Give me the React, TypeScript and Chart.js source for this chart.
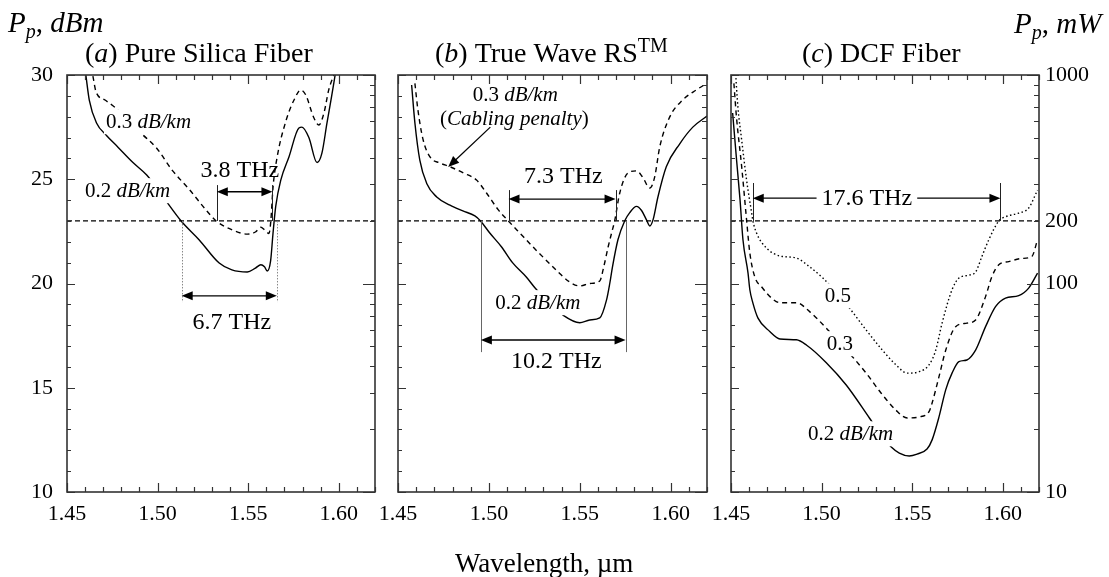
import React, { useEffect, useRef } from 'react';
import { Chart, registerables } from 'chart.js';
Chart.register(...registerables);

const FONT = "'Liberation Serif', 'Times New Roman', serif";

// ---------- axes ----------
const X_TICKS = [1.45, 1.46, 1.47, 1.48, 1.49, 1.5, 1.51, 1.52, 1.53, 1.54, 1.55, 1.56, 1.57, 1.58, 1.59, 1.6, 1.61, 1.62];
const X_LABELS = ['1.45', '1.50', '1.55', '1.60'];
const DBM_TICKS = [10, 11, 12, 13, 14, 15, 16, 17, 18, 19, 20, 21, 22, 23, 24, 25, 26, 27, 28, 29, 30];
const DBM_LABELS = ['10', '15', '20', '25', '30'];
const MW_TICKS = [10, 20, 30, 40, 50, 60, 70, 80, 90, 100, 200, 300, 400, 500, 600, 700, 800, 900, 1000];
const MW_LABELS = ['10', '100', '200', '1000'];
const THRESHOLD_DBM = 23;

// ---------- (a) Pure Silica Fiber ----------
const A_02_X = [1.4604, 1.4623, 1.4663, 1.4718, 1.478, 1.4864, 1.494, 1.5035, 1.513, 1.523, 1.534, 1.541, 1.5495, 1.554, 1.557, 1.559, 1.5605, 1.5624, 1.5637, 1.5652, 1.568, 1.5725, 1.578, 1.5797, 1.5835, 1.588, 1.5907, 1.5935, 1.596, 1.598];
const A_02_Y = [30, 28.8, 27.7, 27.1, 26.55, 25.8, 25.2, 24.1, 23.0, 22.09, 20.98, 20.65, 20.55, 20.74, 20.9, 20.8, 20.6, 21.1, 22.4, 23.7, 24.96, 26.07, 27.46, 27.5, 27.0, 25.8, 26.25, 27.7, 28.95, 30];
const A_03_X = [1.4643, 1.466, 1.471, 1.4764, 1.4837, 1.491, 1.4994, 1.508, 1.5176, 1.527, 1.5323, 1.5413, 1.5495, 1.554, 1.557, 1.559, 1.5615, 1.5625, 1.5637, 1.566, 1.571, 1.5753, 1.579, 1.5818, 1.586, 1.589, 1.5918, 1.5945, 1.5973];
const A_03_Y = [29.95, 29.2, 28.8, 28.45, 27.85, 27.2, 26.5, 25.44, 24.5, 23.5, 23.0, 22.57, 22.37, 22.47, 22.7, 22.57, 22.4, 23.0, 24.6, 26.07, 27.84, 28.8, 29.28, 29.04, 28.0, 27.6, 28.17, 29.3, 30];

// ---------- (b) True Wave RS ----------
const B_02_X = [1.4575, 1.4593, 1.462, 1.4658, 1.4713, 1.4786, 1.4857, 1.4923, 1.4954, 1.5005, 1.507, 1.513, 1.5207, 1.5253, 1.533, 1.5407, 1.55, 1.5555, 1.561, 1.5647, 1.5665, 1.568, 1.571, 1.5747, 1.5775, 1.5812, 1.584, 1.5867, 1.5885, 1.5903, 1.593, 1.5976, 1.605, 1.6122, 1.62];
const B_02_Y = [29.52, 27.7, 25.92, 24.8, 24.15, 23.76, 23.48, 23.24, 23.0, 22.42, 21.75, 21.0, 20.3, 19.8, 19.1, 18.49, 18.12, 18.25, 18.35, 19.2, 20.0, 20.8, 22.1, 23.0, 23.4, 23.7, 23.5, 23.05, 22.76, 23.05, 24.15, 25.6, 26.7, 27.5, 28.03];
const B_03_X = [1.4593, 1.461, 1.4638, 1.4676, 1.473, 1.4786, 1.486, 1.4932, 1.4987, 1.5052, 1.5107, 1.517, 1.526, 1.537, 1.5445, 1.55, 1.5555, 1.561, 1.5632, 1.5656, 1.5675, 1.5692, 1.572, 1.5765, 1.5812, 1.5846, 1.5885, 1.5912, 1.594, 1.5995, 1.6066, 1.614, 1.62];
const B_03_Y = [29.6, 28.3, 26.9, 26.07, 25.78, 25.6, 25.3, 24.96, 24.34, 23.53, 23.0, 22.42, 21.6, 20.65, 20.07, 19.88, 20.0, 20.12, 20.8, 21.75, 22.42, 23.0, 24.34, 25.3, 25.4, 25.1, 24.58, 25.1, 26.55, 27.99, 28.8, 29.28, 29.6];

// ---------- (c) DCF Fiber ----------
const C_02_X = [1.4509, 1.4531, 1.455, 1.4566, 1.4594, 1.4604, 1.4621, 1.4649, 1.4714, 1.477, 1.4861, 1.4916, 1.5026, 1.5136, 1.5264, 1.532, 1.5383, 1.5429, 1.5484, 1.5527, 1.5582, 1.561, 1.5648, 1.5685, 1.572, 1.5758, 1.5802, 1.585, 1.5905, 1.596, 1.6015, 1.6088, 1.6143, 1.6192];
const C_02_Y = [28.18, 25.9, 24.0, 22.1, 20.5, 19.7, 19.06, 18.34, 17.7, 17.34, 17.3, 17.05, 16.2, 15.13, 13.55, 12.85, 12.17, 11.87, 11.73, 11.82, 12.06, 12.5, 13.6, 14.9, 15.7, 16.25, 16.33, 16.8, 17.93, 18.89, 19.3, 19.42, 19.78, 20.5];
const C_03_X = [1.4516, 1.453, 1.4559, 1.4586, 1.4604, 1.4632, 1.4668, 1.4724, 1.477, 1.4861, 1.4934, 1.5026, 1.51, 1.517, 1.5246, 1.5328, 1.541, 1.5473, 1.5538, 1.5593, 1.561, 1.5648, 1.5685, 1.574, 1.5802, 1.585, 1.5905, 1.594, 1.5978, 1.6033, 1.6104, 1.616, 1.6192];
const C_03_Y = [29.6, 28.0, 25.6, 23.05, 21.46, 20.3, 19.85, 19.3, 19.08, 19.08, 18.65, 17.86, 17.15, 16.49, 15.7, 14.75, 13.93, 13.55, 13.6, 13.85, 14.27, 15.53, 16.8, 17.93, 18.1, 18.25, 19.37, 20.33, 20.9, 21.05, 21.2, 21.29, 22.1];
const C_05_X = [1.4527, 1.4538, 1.4559, 1.4586, 1.4614, 1.4621, 1.4641, 1.4696, 1.477, 1.4861, 1.4934, 1.5007, 1.508, 1.5154, 1.5246, 1.5336, 1.541, 1.5473, 1.5538, 1.5593, 1.563, 1.5665, 1.572, 1.5758, 1.5813, 1.585, 1.5885, 1.5923, 1.5978, 1.6015, 1.6088, 1.6143, 1.6192];
const C_05_Y = [29.85, 28.47, 26.88, 24.96, 23.38, 23.0, 22.42, 21.7, 21.32, 21.22, 20.8, 20.26, 19.6, 18.82, 17.77, 16.8, 16.1, 15.7, 15.77, 16.1, 16.8, 18.1, 19.7, 20.26, 20.4, 20.55, 21.3, 22.1, 23.0, 23.2, 23.38, 23.62, 24.48];

// ---------- drawing helpers ----------
type Seg = { t: string; i?: boolean; sub?: boolean; sup?: boolean };
const R = (t: string): Seg => ({ t });
const I = (t: string): Seg => ({ t, i: true });

function drawRich(ctx: CanvasRenderingContext2D, segs: Seg[], x: number, y: number, size: number, align: string, bg?: number) {
  const fontFor = (s: Seg) => `${s.i ? 'italic ' : ''}${s.sub || s.sup ? Math.round(size * 0.7) : size}px ${FONT}`;
  let w = 0;
  const widths = segs.map((s) => {
    ctx.font = fontFor(s);
    const m = ctx.measureText(s.t).width;
    w += m;
    return m;
  });
  let x0 = align === 'center' ? x - w / 2 : align === 'right' ? x - w : x;
  if (bg !== undefined) {
    ctx.fillStyle = '#fff';
    ctx.fillRect(x0 - bg, y - size * 0.8 - 2, w + 2 * bg, size * 1.05 + 3);
  }
  ctx.fillStyle = '#000';
  ctx.textAlign = 'left';
  ctx.textBaseline = 'alphabetic';
  segs.forEach((s, k) => {
    ctx.font = fontFor(s);
    const dy = s.sub ? size * 0.22 : s.sup ? -size * 0.36 : 0;
    ctx.fillText(s.t, x0, y + dy);
    x0 += widths[k];
  });
}

function head(ctx: CanvasRenderingContext2D, x: number, y: number, dx: number, dy: number) {
  const L = 11, W = 4.5;
  const bx = x - dx * L, by = y - dy * L;
  ctx.beginPath();
  ctx.moveTo(x, y);
  ctx.lineTo(bx - dy * W, by + dx * W);
  ctx.lineTo(bx + dy * W, by - dx * W);
  ctx.closePath();
  ctx.fill();
}

function doubleArrow(ctx: CanvasRenderingContext2D, x1: number, x2: number, y: number) {
  ctx.strokeStyle = '#000';
  ctx.fillStyle = '#000';
  ctx.lineWidth = 1.3;
  ctx.beginPath();
  ctx.moveTo(x1 + 5, y);
  ctx.lineTo(x2 - 5, y);
  ctx.stroke();
  head(ctx, x1, y, -1, 0);
  head(ctx, x2, y, 1, 0);
}

function pointer(ctx: CanvasRenderingContext2D, x1: number, y1: number, x2: number, y2: number) {
  const len = Math.hypot(x2 - x1, y2 - y1);
  const dx = (x2 - x1) / len, dy = (y2 - y1) / len;
  ctx.strokeStyle = '#000';
  ctx.fillStyle = '#000';
  ctx.lineWidth = 1.3;
  ctx.beginPath();
  ctx.moveTo(x1, y1);
  ctx.lineTo(x2 - dx * 5, y2 - dy * 5);
  ctx.stroke();
  head(ctx, x2, y2, dx, dy);
}

const near = (v: number, step: number) => Math.abs(v / step - Math.round(v / step)) < 1e-6;

// ---------- panels ----------
const SOLID: number[] = [];
const DASHED = [5, 4];
const DOTTED = [1.5, 2.5];

const PANELS: any[] = [
  {
    key: 'a', left: 67, right: 375, yW: 60, y2W: 10, leftLabels: true, rightLabels: false,
    series: [
      { x: A_02_X, y: A_02_Y, dash: SOLID },
      { x: A_03_X, y: A_03_Y, dash: DASHED },
    ],
    title: [R('('), I('a'), R(') Pure Silica Fiber')], titleDx: 18,
    vlines: [
      { x: 1.5327, y1: 23, y2: 24.72, color: '#222' },
      { x: 1.5634, y1: 23, y2: 24.72, color: '#222' },
      { x: 1.5133, y1: 23, y2: 19.11, color: '#888', dash: [1.5, 1.5] },
      { x: 1.5658, y1: 23, y2: 19.11, color: '#888', dash: [1.5, 1.5] },
    ],
    arrows: [
      { x1: 1.5327, x2: 1.5634, y: 24.4 },
      { x1: 1.5133, x2: 1.5658, y: 19.41 },
    ],
    pointers: [],
    labels: [
      { x: 1.4715, y: 27.46, segs: [R('0.3 '), I('dB/km')], size: 21, align: 'left', bg: 2 },
      { x: 1.4599, y: 24.15, segs: [R('0.2 '), I('dB/km')], size: 21, align: 'left', bg: 2 },
      { x: 1.5454, y: 25.1, segs: [R('3.8 THz')], size: 24, align: 'center' },
      { x: 1.541, y: 17.82, segs: [R('6.7 THz')], size: 24, align: 'center' },
    ],
    extra: [{ segs: [I('P'), { t: 'p', i: true, sub: true }, R(', '), I('dBm')], px: 8, py: 32, size: 29 }],
  },
  {
    key: 'b', left: 398, right: 707, yW: 10, y2W: 10, leftLabels: false, rightLabels: false,
    series: [
      { x: B_02_X, y: B_02_Y, dash: SOLID },
      { x: B_03_X, y: B_03_Y, dash: DASHED },
    ],
    title: [R('('), I('b'), R(') True Wave RS'), { t: 'TM', sup: true }], titleDx: 37,
    vlines: [
      { x: 1.5108, y1: 23, y2: 24.48, color: '#222' },
      { x: 1.5697, y1: 23, y2: 24.48, color: '#222' },
      { x: 1.4956, y1: 23, y2: 16.71, color: '#666' },
      { x: 1.5752, y1: 23, y2: 16.71, color: '#666' },
    ],
    arrows: [
      { x1: 1.5108, x2: 1.5697, y: 24.05 },
      { x1: 1.4956, x2: 1.5752, y: 17.29 },
    ],
    pointers: [{ x1: 1.5008, y1: 27.5, x2: 1.4776, y2: 25.59 }],
    labels: [
      { x: 1.5145, y: 28.75, segs: [R('0.3 '), I('dB/km')], size: 21, align: 'center' },
      { x: 1.514, y: 27.6, segs: [R('('), I('Cabling penalty'), R(')')], size: 21, align: 'center' },
      { x: 1.541, y: 24.82, segs: [R('7.3 THz')], size: 24, align: 'center' },
      { x: 1.5371, y: 15.95, segs: [R('10.2 THz')], size: 24, align: 'center' },
      { x: 1.5035, y: 18.78, segs: [R('0.2 '), I('dB/km')], size: 21, align: 'left', bg: 2 },
    ],
    extra: [{ segs: [R('Wavelength, µm')], px: 455, py: 572, size: 27 }],
  },
  {
    key: 'c', left: 731, right: 1039, yW: 10, y2W: 60, leftLabels: false, rightLabels: true,
    series: [
      { x: C_02_X, y: C_02_Y, dash: SOLID },
      { x: C_03_X, y: C_03_Y, dash: DASHED },
      { x: C_05_X, y: C_05_Y, dash: DOTTED },
    ],
    title: [R('('), I('c'), R(') DCF Fiber')], titleDx: 71,
    vlines: [
      { x: 1.462, y1: 23, y2: 24.82, color: '#222' },
      { x: 1.5987, y1: 23, y2: 24.82, color: '#222' },
    ],
    arrows: [{ x1: 1.462, x2: 1.5987, y: 24.09 }],
    pointers: [],
    labels: [
      { x: 1.525, y: 23.77, segs: [R('17.6 THz')], size: 24, align: 'center', bg: 5 },
      { x: 1.5018, y: 19.11, segs: [R('0.5')], size: 21, align: 'left', bg: 2 },
      { x: 1.5029, y: 16.81, segs: [R('0.3')], size: 21, align: 'left', bg: 2 },
      { x: 1.4925, y: 12.49, segs: [R('0.2 '), I('dB/km')], size: 21, align: 'left', bg: 2 },
    ],
    extra: [{ segs: [I('P'), { t: 'p', i: true, sub: true }, R(', '), I('mW')], px: 1014, py: 33, size: 29 }],
  },
];

const panelPlugin = (p: any) => ({
  id: 'panel_' + p.key,
  afterDatasetsDraw(chart: any) {
    const { ctx, scales } = chart;
    const X = (v: number) => scales.x.getPixelForValue(v);
    const Y = (v: number) => scales.y.getPixelForValue(v);
    ctx.save();
    p.vlines.forEach((v: any) => {
      ctx.beginPath();
      ctx.strokeStyle = v.color;
      ctx.lineWidth = 1;
      ctx.setLineDash(v.dash || []);
      ctx.moveTo(Math.round(X(v.x)) + 0.5, Y(v.y1));
      ctx.lineTo(Math.round(X(v.x)) + 0.5, Y(v.y2));
      ctx.stroke();
    });
    ctx.setLineDash([]);
    p.arrows.forEach((a: any) => doubleArrow(ctx, X(a.x1), X(a.x2), Y(a.y)));
    p.pointers.forEach((a: any) => pointer(ctx, X(a.x1), Y(a.y1), X(a.x2), Y(a.y2)));
    p.labels.forEach((l: any) => drawRich(ctx, l.segs, X(l.x), Y(l.y), l.size, l.align, l.bg));
    ctx.restore();
  },
  afterDraw(chart: any) {
    const { ctx, chartArea, scales } = chart;
    const { left, right, top, bottom } = chartArea;
    ctx.save();
    ctx.strokeStyle = '#333';
    ctx.lineWidth = 1.2;
    ctx.beginPath();
    scales.x.ticks.forEach((t: any) => {
      if (!near(t.value, 0.01)) return;
      const px = Math.round(scales.x.getPixelForValue(t.value)) + 0.5;
      const L = near(t.value, 0.05) ? 9 : 5;
      ctx.moveTo(px, bottom);
      ctx.lineTo(px, bottom - L);
      ctx.moveTo(px, top);
      ctx.lineTo(px, top + L);
    });
    scales.y.ticks.forEach((t: any) => {
      const py = Math.round(scales.y.getPixelForValue(t.value)) + 0.5;
      const L = near(t.value, 5) ? 8 : 4;
      ctx.moveTo(left, py);
      ctx.lineTo(left + L, py);
    });
    scales.y2.ticks.forEach((t: any) => {
      const py = Math.round(scales.y2.getPixelForValue(t.value)) + 0.5;
      const e = Math.log10(t.value);
      const L = Math.abs(e - Math.round(e)) < 1e-6 ? 12 : 5;
      ctx.moveTo(right, py);
      ctx.lineTo(right - L, py);
    });
    ctx.stroke();
    ctx.lineWidth = 1.6;
    ctx.strokeRect(left, top, right - left, bottom - top);
    drawRich(ctx, p.title, left + p.titleDx, top - 13, 28, 'left');
    p.extra.forEach((e: any) => drawRich(ctx, e.segs, e.px, e.py, e.size, 'left'));
    ctx.restore();
  },
});

const tickFont = { family: FONT, size: 22 };
const findLabel = (labels: string[], v: number) => labels.find((l) => Math.abs(parseFloat(l) - v) < 1e-6) ?? '';

const makeConfig = (p: any): any => ({
  type: 'line',
  data: {
    datasets: [
      ...p.series.map((s: any) => ({
        data: s.x.map((x: number, i: number) => ({ x, y: s.y[i] })),
        borderColor: '#000',
        borderWidth: 1.4,
        borderDash: s.dash,
        pointRadius: 0,
        cubicInterpolationMode: 'monotone',
        fill: false,
        yAxisID: 'y',
      })),
      {
        data: [{ x: X_TICKS[0], y: THRESHOLD_DBM }, { x: X_TICKS[X_TICKS.length - 1], y: THRESHOLD_DBM }],
        borderColor: '#000',
        borderWidth: 1.3,
        borderDash: [5, 3],
        pointRadius: 0,
        fill: false,
        yAxisID: 'y',
      },
    ],
  },
  options: {
    animation: false,
    responsive: false,
    devicePixelRatio: 1,
    events: [],
    layout: { padding: { left: p.left - p.yW, right: 1109 - p.right - p.y2W, top: 75, bottom: 577 - 492 - 40 } },
    plugins: { legend: { display: false }, tooltip: { enabled: false }, title: { display: false } },
    scales: {
      x: {
        type: 'linear', min: 1.45, max: 1.62,
        afterBuildTicks: (s: any) => { s.ticks = X_TICKS.map((v) => ({ value: v })); },
        afterFit: (s: any) => { s.height = 40; },
        grid: { display: false, drawTicks: false },
        border: { display: false },
        ticks: { autoSkip: false, maxRotation: 0, padding: 9, font: tickFont, color: '#000', callback: (v: number) => findLabel(X_LABELS, v) },
      },
      y: {
        type: 'linear', position: 'left', min: 10, max: 30,
        afterBuildTicks: (s: any) => { s.ticks = DBM_TICKS.map((v) => ({ value: v })); },
        afterFit: (s: any) => { s.width = p.yW; },
        grid: { display: false, drawTicks: false },
        border: { display: false },
        ticks: { autoSkip: false, padding: 14, font: tickFont, color: '#000', callback: (v: number) => (p.leftLabels ? findLabel(DBM_LABELS, v) : '') },
      },
      y2: {
        type: 'logarithmic', position: 'right', min: 10, max: 1000,
        afterBuildTicks: (s: any) => { s.ticks = MW_TICKS.map((v) => ({ value: v })); },
        afterFit: (s: any) => { s.width = p.y2W; },
        grid: { display: false, drawTicks: false },
        border: { display: false },
        ticks: { autoSkip: false, padding: 6, font: tickFont, color: '#000', callback: (v: number) => (p.rightLabels ? findLabel(MW_LABELS, v) : '') },
      },
    },
  },
  plugins: [panelPlugin(p)],
});

export default function App() {
  const r0 = useRef<HTMLCanvasElement>(null);
  const r1 = useRef<HTMLCanvasElement>(null);
  const r2 = useRef<HTMLCanvasElement>(null);
  const refs = [r0, r1, r2];
  useEffect(() => {
    const charts = PANELS.map((p, i) => new Chart(refs[i].current as HTMLCanvasElement, makeConfig(p)));
    return () => charts.forEach((c) => c.destroy());
  }, []);
  return (
    <div style={{ position: 'fixed', left: 0, top: 0, width: 1109, height: 577, background: '#fff', overflow: 'hidden' }}>
      {PANELS.map((p, i) => (
        <canvas key={p.key} ref={refs[i]} width={1109} height={577} style={{ position: 'absolute', left: 0, top: 0 }} />
      ))}
    </div>
  );
}
